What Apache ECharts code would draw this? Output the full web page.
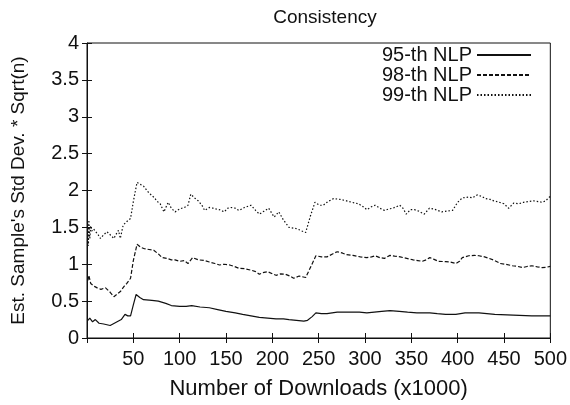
<!DOCTYPE html>
<html>
<head>
<meta charset="utf-8">
<script src="https://cdn.jsdelivr.net/npm/echarts@6/dist/echarts.min.js"></script>
<style>
  html, body { margin: 0; padding: 0; background: #fff; }
  #container { width: 570px; height: 405px; }
</style>
</head>
<body>
<div id="container"></div>
<script>
// x 轴刻度 (单位: 千次下载)
var xTicks = [0, 50, 100, 150, 200, 250, 300, 350, 400, 450, 500];

// 95-th NLP
var x95 = [1, 3, 6, 9, 13, 18, 25, 31, 37, 41, 44, 47, 50, 53, 57, 61, 70, 77, 85, 91, 100, 107, 113, 122, 132, 141, 150, 160, 168, 177, 186, 195, 204, 212, 218, 226, 234, 238, 243, 247, 253, 259, 270, 282, 294, 302, 310, 318, 327, 337, 346, 356, 364, 370, 378, 387, 398, 408, 423, 440, 460, 480, 500];
var y95 = [0.24, 0.27, 0.22, 0.25, 0.2, 0.19, 0.17, 0.21, 0.25, 0.32, 0.3, 0.3, 0.45, 0.59, 0.55, 0.52, 0.51, 0.5, 0.47, 0.44, 0.43, 0.43, 0.44, 0.42, 0.41, 0.385, 0.36, 0.34, 0.32, 0.3, 0.28, 0.27, 0.26, 0.26, 0.25, 0.24, 0.23, 0.24, 0.29, 0.34, 0.33, 0.33, 0.35, 0.35, 0.35, 0.34, 0.35, 0.36, 0.37, 0.36, 0.35, 0.34, 0.34, 0.34, 0.33, 0.32, 0.32, 0.34, 0.34, 0.32, 0.31, 0.3, 0.3];

// 98-th NLP
var x98 = [1, 2, 4, 6, 8, 11, 15, 20, 25, 29, 33, 36, 40, 43, 47, 50, 54, 58, 62, 67, 72, 77, 81, 86, 91, 95, 100, 105, 109, 114, 120, 127, 132, 138, 143, 148, 154, 159, 164, 170, 177, 182, 186, 191, 195, 200, 204, 209, 214, 219, 223, 229, 236, 238, 242, 247, 253, 259, 265, 270, 276, 280, 287, 295, 302, 307, 311, 316, 321, 327, 332, 338, 345, 352, 357, 362, 366, 370, 374, 379, 387, 392, 398, 402, 405, 412, 418, 423, 429, 434, 440, 446, 452, 459, 465, 470, 475, 480, 486, 491, 496, 500];
var y98 = [0.78, 0.85, 0.74, 0.72, 0.7, 0.68, 0.66, 0.68, 0.62, 0.56, 0.6, 0.63, 0.7, 0.74, 0.81, 1.05, 1.27, 1.23, 1.21, 1.2, 1.19, 1.14, 1.09, 1.08, 1.06, 1.06, 1.04, 1.05, 1.01, 1.09, 1.06, 1.05, 1.03, 1.01, 0.99, 1.0, 0.99, 0.97, 0.945, 0.94, 0.92, 0.9, 0.865, 0.89, 0.9, 0.87, 0.85, 0.87, 0.865, 0.84, 0.81, 0.84, 0.82, 0.83, 0.98, 1.115, 1.1, 1.1, 1.14, 1.17, 1.15, 1.13, 1.12, 1.1, 1.09, 1.1, 1.115, 1.09, 1.08, 1.12, 1.11, 1.1, 1.08, 1.06, 1.05, 1.04, 1.06, 1.09, 1.07, 1.04, 1.035, 1.03, 1.01, 1.04, 1.09, 1.115, 1.12, 1.115, 1.1, 1.08, 1.05, 1.01, 1.0, 0.98, 0.97, 0.955, 0.97, 0.98, 0.965, 0.955, 0.96, 0.97];

// 99-th NLP
var x99 = [1, 1.5, 2, 3, 4, 5, 7, 9, 12, 14.5, 18, 21.6, 25, 29, 32, 34, 36, 39, 43, 47, 50, 54, 58, 61, 66, 70, 73, 75, 79, 83, 87.6, 91, 95, 100, 105, 109, 112, 116, 120, 124, 127, 132, 136, 139, 143, 148, 152, 155, 160, 164, 170, 177, 182, 186, 191, 196, 202, 207, 212, 218, 223, 227, 232, 236, 241, 246, 251, 255, 260, 266, 273, 280, 286, 293, 298, 302, 307, 311, 316, 321, 326, 330, 334, 337.5, 341, 344.5, 349, 353.5, 358, 364, 369.6, 374, 378.5, 383, 388, 394.5, 400, 405, 412, 416, 421, 426, 430, 435, 439, 445, 450, 455, 460.6, 466, 471, 476, 482, 487, 491, 495, 498, 500];
var y99 = [1.55, 1.25, 1.6, 1.35, 1.52, 1.45, 1.48, 1.46, 1.4, 1.35, 1.4, 1.44, 1.4, 1.35, 1.42, 1.46, 1.35, 1.53, 1.58, 1.62, 1.85, 2.11, 2.08, 2.06, 1.98, 1.93, 1.9, 1.86, 1.82, 1.71, 1.84, 1.76, 1.71, 1.75, 1.77, 1.8, 1.95, 1.9, 1.86, 1.8, 1.73, 1.77, 1.76, 1.75, 1.74, 1.71, 1.76, 1.77, 1.76, 1.73, 1.77, 1.8, 1.73, 1.68, 1.72, 1.76, 1.64, 1.71, 1.6, 1.5, 1.49, 1.48, 1.45, 1.43, 1.65, 1.84, 1.8, 1.8, 1.85, 1.89, 1.88, 1.86, 1.84, 1.82, 1.78, 1.74, 1.78, 1.8, 1.76, 1.73, 1.75, 1.76, 1.78, 1.8, 1.76, 1.68, 1.74, 1.74, 1.72, 1.68, 1.76, 1.75, 1.73, 1.71, 1.72, 1.73, 1.84, 1.9, 1.91, 1.9, 1.94, 1.92, 1.89, 1.88, 1.86, 1.84, 1.82, 1.76, 1.83, 1.82, 1.84, 1.85, 1.86, 1.85, 1.84, 1.86, 1.9, 1.92];

var seriesNames = ["95-th NLP", "98-th NLP", "99-th NLP"];

function zip(xs, ys) {
    var r = [];
    for (var i = 0; i < xs.length; i++) {
        r.push([xs[i], ys[i]]);
    }
    return r;
}

var font = "'Liberation Sans', Arial, Helvetica, sans-serif";
var ink = "#111";

var myChart = echarts.init(document.getElementById("container"));

var tickStyle = { show: true, inside: true, length: 5, lineStyle: { color: ink, width: 1 } };

myChart.setOption({
    animation: false,
    backgroundColor: "#fff",
    title: {
        text: "Consistency",
        left: 320,
        textAlign: "center",
        top: 3,
        textStyle: { fontFamily: font, fontSize: 19, fontWeight: "normal", color: ink },
    },
    grid: {
        left: 87,
        right: 15,
        top: 43,
        bottom: 65,
        show: true,
        borderColor: ink,
        borderWidth: 1,
    },
    legend: {
        orient: "vertical",
        right: 38,
        top: 45,
        padding: 0,
        align: "right",
        itemWidth: 54,
        itemHeight: 14,
        itemGap: 0,
        itemStyle: { opacity: 0 },
        textStyle: { fontFamily: font, fontSize: 20, lineHeight: 19, color: ink },
        data: seriesNames,
    },
    xAxis: [{
        type: "value",
        min: 0,
        max: 500,
        interval: 50,
        name: "Number of Downloads (x1000)",
        nameLocation: "middle",
        nameGap: 40,
        nameTextStyle: { fontFamily: font, fontSize: 22, color: ink },
        axisLine: { show: true, lineStyle: { color: ink } },
        axisTick: tickStyle,
        splitLine: { show: false },
        axisLabel: {
            margin: 11,
            fontFamily: font,
            fontSize: 20,
            color: ink,
            formatter: function(v) {
                return v === xTicks[0] ? "" : String(v);
            },
        },
    }, {
        type: "value",
        position: "top",
        min: 0,
        max: 500,
        interval: 50,
        axisLine: { show: false },
        axisTick: tickStyle,
        axisLabel: { show: false },
        splitLine: { show: false },
    }],
    yAxis: [{
        type: "value",
        min: 0,
        max: 4,
        interval: 0.5,
        name: "Est. Sample's Std Dev. * Sqrt(n)",
        nameLocation: "middle",
        nameGap: 59,
        nameTextStyle: { fontFamily: font, fontSize: 19, color: ink },
        axisLine: { show: true, lineStyle: { color: ink } },
        axisTick: tickStyle,
        splitLine: { show: false },
        axisLabel: { margin: 8, fontFamily: font, fontSize: 20, color: ink },
    }, {
        type: "value",
        position: "right",
        min: 0,
        max: 4,
        interval: 0.5,
        axisLine: { show: false },
        axisTick: tickStyle,
        axisLabel: { show: false },
        splitLine: { show: false },
    }],
    series: [{
        name: seriesNames[0],
        type: "line",
        data: zip(x95, y95),
        symbol: "none",
        lineStyle: { color: ink, width: 1.2, type: "solid" },
        itemStyle: { color: ink },
    }, {
        name: seriesNames[1],
        type: "line",
        data: zip(x98, y98),
        symbol: "none",
        lineStyle: { color: ink, width: 1.2, type: [4, 2] },
        itemStyle: { color: ink },
    }, {
        name: seriesNames[2],
        type: "line",
        data: zip(x99, y99),
        symbol: "none",
        lineStyle: { color: ink, width: 1.2, type: [1.5, 2] },
        itemStyle: { color: ink },
    }],
});
</script>
</body>
</html>
